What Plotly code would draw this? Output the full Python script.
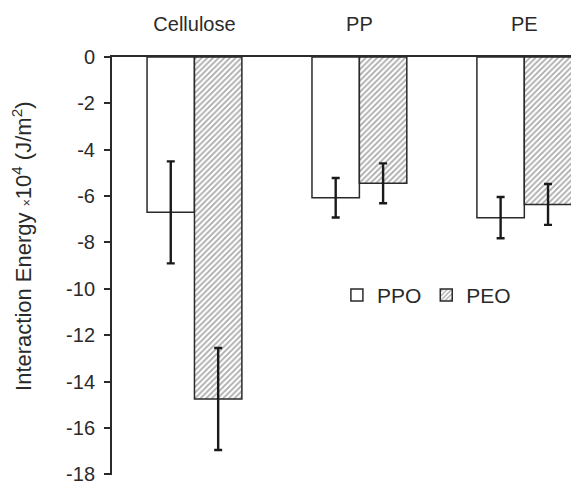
import plotly.graph_objects as go

categories = ["Cellulose", "PP", "PE"]
ppo_values = [-6.7, -6.07, -6.93]
ppo_errors = [2.2, 0.85, 0.89]
peo_values = [-14.75, -5.45, -6.36]
peo_errors = [2.2, 0.86, 0.88]
y_ticks = [0, -2, -4, -6, -8, -10, -12, -14, -16, -18]

font_family = "Liberation Sans, Arial, sans-serif"
text_color = "#2a2a2a"

fig = go.Figure()
fig.add_trace(go.Bar(
    x=categories, y=ppo_values, name="PPO",
    marker=dict(color="white", line=dict(color="#2a2a2a", width=1.5)),
    error_y=dict(type="data", array=ppo_errors, visible=True,
                 color="#1a1a1a", thickness=2.4, width=4),
))
fig.add_trace(go.Bar(
    x=categories, y=peo_values, name="PEO",
    marker=dict(color="white", line=dict(color="#2a2a2a", width=1.5),
                pattern=dict(shape="/", fgcolor="#555555", bgcolor="white",
                             size=4, solidity=0.45)),
    error_y=dict(type="data", array=peo_errors, visible=True,
                 color="#1a1a1a", thickness=2.4, width=4),
))

fig.update_layout(
    width=571, height=484,
    margin=dict(l=112, r=0, t=57, b=9, autoexpand=False),
    paper_bgcolor="white", plot_bgcolor="white",
    barmode="group", bargap=0.425, bargroupgap=0,
    font=dict(family=font_family, size=20, color=text_color),
    showlegend=True,
    legend=dict(orientation="h", x=0.49, y=0.43, xanchor="left", yanchor="middle",
                font=dict(size=21, color=text_color), bgcolor="rgba(0,0,0,0)",
                itemwidth=30, traceorder="normal"),
)
fig.update_xaxes(
    side="top", range=[-0.5, 2.283], showline=True, linecolor="#2a2a2a", linewidth=2,
    ticks="", showgrid=False, zeroline=False, ticklabelstandoff=16,
    tickfont=dict(size=20, color=text_color),
)
fig.update_yaxes(
    range=[-18.03, 0], tickvals=y_ticks, ticktext=[str(v) for v in y_ticks],
    showline=True, linecolor="#2a2a2a", linewidth=2,
    ticks="outside", ticklen=6, tickwidth=2, tickcolor="#2a2a2a",
    showgrid=False, zeroline=False, ticklabeloverflow="allow", ticklabelstandoff=5,
    tickfont=dict(size=20, color=text_color),
)
fig.add_annotation(
    xref="paper", yref="paper", x=-0.196, y=0.548, xanchor="center", yanchor="middle",
    text='Interaction Energy <span style="font-size:12px">×</span>10<sup>4</sup> (J/m<sup>2</sup>)',
    textangle=-90, showarrow=False, font=dict(size=22, color=text_color),
)

fig.write_html("out.html")
